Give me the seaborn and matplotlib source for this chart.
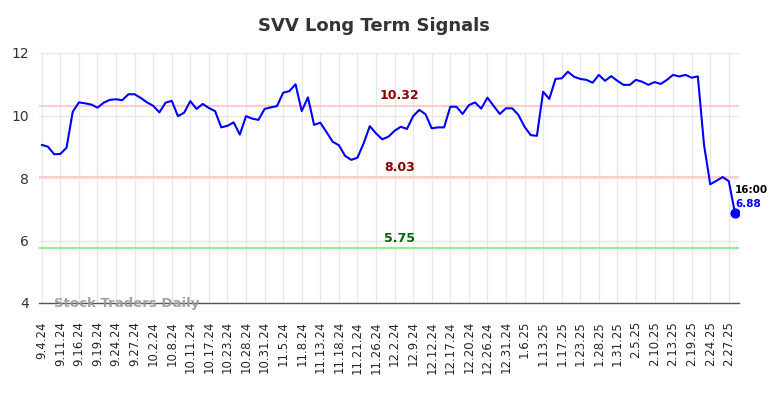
import matplotlib
matplotlib.use("Agg")
import matplotlib.pyplot as plt
import seaborn as sns
import numpy as np

# --- data ---
tick_labels = ["9.4.24", "9.11.24", "9.16.24", "9.19.24", "9.24.24", "9.27.24",
               "10.2.24", "10.8.24", "10.11.24", "10.17.24", "10.23.24", "10.28.24",
               "10.31.24", "11.5.24", "11.8.24", "11.13.24", "11.18.24", "11.21.24",
               "11.26.24", "12.2.24", "12.9.24", "12.12.24", "12.17.24", "12.20.24",
               "12.26.24", "12.31.24", "1.6.25", "1.13.25", "1.17.25", "1.23.25",
               "1.28.25", "1.31.25", "2.5.25", "2.10.25", "2.13.25", "2.19.25",
               "2.24.25", "2.27.25"]

prices = [9.06, 9.00, 8.76, 8.77, 8.97, 10.12, 10.42, 10.39, 10.35, 10.25,
          10.41, 10.50, 10.52, 10.49, 10.68, 10.68, 10.56, 10.42, 10.31, 10.10,
          10.41, 10.47, 9.98, 10.09, 10.46, 10.21, 10.37, 10.24, 10.14, 9.62,
          9.67, 9.78, 9.39, 9.98, 9.90, 9.86, 10.21, 10.26, 10.30, 10.73,
          10.78, 11.00, 10.14, 10.58, 9.70, 9.77, 9.47, 9.16, 9.05, 8.71,
          8.58, 8.65, 9.11, 9.66, 9.43, 9.24, 9.32, 9.51, 9.64, 9.57,
          9.98, 10.18, 10.04, 9.59, 9.62, 9.62, 10.28, 10.28, 10.05, 10.33,
          10.42, 10.22, 10.57, 10.31, 10.05, 10.23, 10.23, 10.02, 9.64, 9.37,
          9.35, 10.76, 10.53, 11.17, 11.19, 11.40, 11.24, 11.17, 11.14, 11.05,
          11.30, 11.11, 11.26, 11.11, 10.98, 10.98, 11.14, 11.08, 10.98, 11.07,
          11.01, 11.14, 11.30, 11.25, 11.30, 11.21, 11.25, 9.06, 7.80, 7.91,
          8.03, 7.90, 6.88]

upper_level = 10.32
mid_level = 8.03
support_level = 5.75
last_time = "16:00"

idx = np.arange(len(prices))

sns.set_style("whitegrid")
plt.rcParams['font.family'] = ['DejaVu Sans']

fig = plt.figure(figsize=(7.84, 3.98), dpi=100)
ax = fig.add_axes([39 / 784, 95 / 398, 700 / 784, 250 / 398])

sns.lineplot(x=idx, y=prices, ax=ax, color="#0000ff", linewidth=1.5, zorder=3)
ax.scatter([idx[-1]], [prices[-1]], s=40, color="#0000ff", zorder=4)

# signal levels
ax.axhline(upper_level, color="#ffcccc", linewidth=1.5, zorder=2)
ax.axhline(mid_level, color="#ffcccc", linewidth=1.5, zorder=2)
ax.axhline(support_level, color="#90ee90", linewidth=1.5, zorder=2)

mid_x = 57.8
ax.text(mid_x, upper_level + 0.1, f"{upper_level:.2f}", color="#8b0000",
        fontsize=9, fontweight="bold", ha="center", va="bottom")
ax.text(mid_x, mid_level + 0.1, f"{mid_level:.2f}", color="#8b0000",
        fontsize=9, fontweight="bold", ha="center", va="bottom")
ax.text(mid_x, support_level + 0.1, f"{support_level:.2f}", color="#006400",
        fontsize=9, fontweight="bold", ha="center", va="bottom")

# last value annotation
ax.text(idx[-1], prices[-1] + 0.75, last_time, color="black", fontsize=7.5,
        fontweight="bold", ha="left", va="center")
ax.text(idx[-1], prices[-1] + 0.3, f"{prices[-1]:.2f}", color="#0000ff", fontsize=7.5,
        fontweight="bold", ha="left", va="center")

# watermark
ax.text(2, 4.0, "Stock Traders Daily", color="#999999", fontsize=9.5,
        fontweight="bold", ha="left", va="center", alpha=0.9)

ax.set_xlim(-0.45, len(prices) - 1 + 0.65)
ax.set_ylim(4, 12)
ax.set_yticks([4, 6, 8, 10, 12])
ax.set_xticks(idx[::3][:len(tick_labels)])
ax.set_xticklabels(tick_labels, rotation=90, fontsize=8.5)
ax.tick_params(axis="y", labelsize=10, colors="#333333", length=0, pad=7)
ax.tick_params(axis="x", length=0, pad=13)
ax.grid(True, color="#e8e8e8", linewidth=1)
ax.set_xlabel("")
ax.set_ylabel("")

for side in ["left", "right", "top"]:
    ax.spines[side].set_visible(False)
ax.spines["bottom"].set_color("#555555")
ax.spines["bottom"].set_linewidth(1)

fig.text(374 / 784, 1 - 26 / 398, "SVV Long Term Signals", fontsize=13,
         fontweight="bold", color="#333333", ha="center", va="center")

fig.savefig("out.png", dpi=100)
